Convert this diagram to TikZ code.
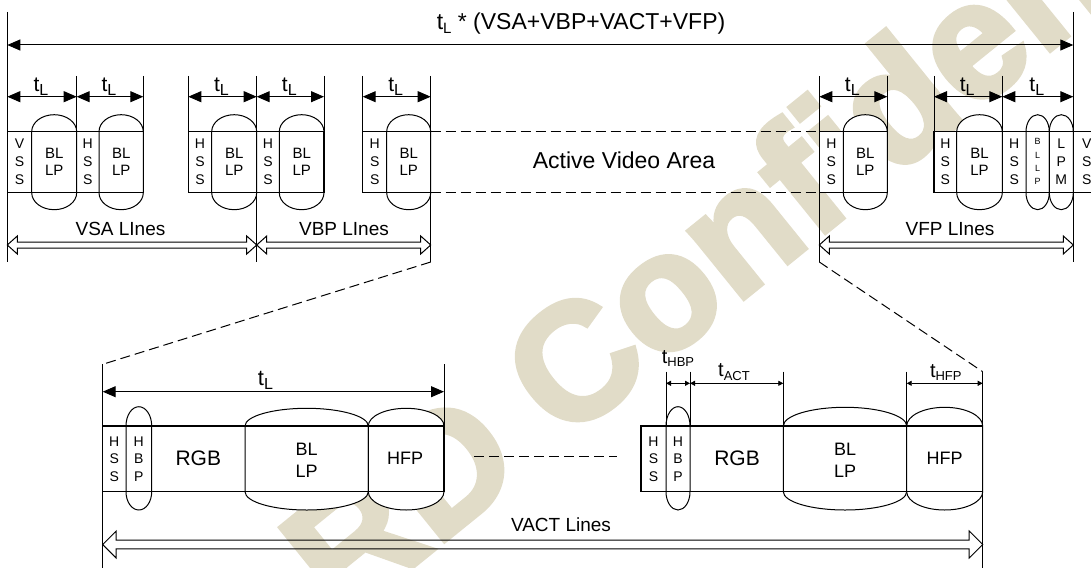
\documentclass[tikz,border=0pt]{standalone}
\usepackage{fontspec}
\setmainfont{Liberation Sans}
\newfontfamily\wmfont{Liberation Sans}[BoldFeatures={FakeBold=3}]
\usetikzlibrary{arrows.meta,calc}
\definecolor{wmcol}{RGB}{225,220,200}
\newcommand\fsz[2]{\fontsize{#1}{#2}\selectfont}
\newcommand\tsub[3]{{\fsz{#1}{#1}t\raisebox{-3.5pt}{\fsz{#2}{#2}#3}}}
\newcommand\pill[6]{%
  \pgfmathsetmacro\pillr{(#2-#1)/2}%
  \draw[fill=white] (#1,#3) arc[start angle=180,end angle=360,x radius=\pillr,y radius=#5] -- (#2,#4) arc[start angle=0,end angle=180,x radius=\pillr,y radius=#6] -- cycle;}
\newcommand\harrow[5]{%
  \draw (#1) -- ++(#3,-#4) -- ++(0,#4-#5) -- ($(#2)+(-#3,-#5)$) -- ++(0,#5-#4) -- (#2) -- ++(-#3,#4) -- ++(0,#5-#4) -- ($(#1)+(#3,#5)$) -- ++(0,#4-#5) -- cycle;}
\begin{document}
\begin{tikzpicture}[x=1pt,y=-1pt,line width=1pt,
  lbl/.style={inner sep=0pt,align=center},
  big/.style={{Triangle[length=13pt,width=11pt]}-{Triangle[length=13pt,width=11pt]}},
  small/.style={line width=0.8pt,{Triangle[length=5pt,width=5pt]}-{Triangle[length=5pt,width=5pt]}},
  dashline/.style={dash pattern=on 10pt off 5pt},
  boxline/.style={line width=1.2pt},
  col/.style={lbl,font=\fsz{14}{18.3}},
  blp/.style={lbl,font=\fsz{15}{16.7}},
  linelbl/.style={lbl,font=\fsz{19}{22}},
  bcol/.style={lbl,font=\fsz{14}{17.5}},
  bbig/.style={lbl,font=\fsz{18}{21.7}}]
\useasboundingbox (0,0) rectangle (1091,567);
\clip (0,0) rectangle (1091,567);
% watermark
\node[inner sep=0pt,text=wmcol,font=\wmfont\bfseries\fsz{165}{165},rotate=39,anchor=base west] (wm) at (343,623) {RD Confidential};
% ---------- top row boxes ----------
\foreach \xa/\xb in {7.3/143.3,188.3/324,362.7/430.7,819.3/887.3,934/1100}
  \fill[white] (\xa,131.7) rectangle (\xb,192.7);
\foreach \xa/\xb in {31.7/76.7,99/143.3,211.7/256.7,279.3/324,386.7/430.7,843.3/887.3,956.7/1002.3,1026/1049.3,1049.3/1073.3}
  \pill{\xa}{\xb}{131.7}{192.7}{17}{17}
\foreach \xa/\xb in {7.3/143.3,188.3/324,362.7/430.7,819.3/887.3,934/1100}
  \draw[boxline] (\xa,131.7) rectangle (\xb,192.7);
% ticks
\foreach \x/\yb in {76.7/192.7,143.3/192.7,188.3/192.7,256.7/262,324/192.7,362.7/192.7,430.7/262,819.3/262,887.3/192.7,934/192.7,1002.3/192.7}
  \draw (\x,76) -- (\x,\yb);
\draw (7.3,12) -- (7.3,262);
\draw (1073.3,12) -- (1073.3,262);
% coordinates
\foreach \n/\x in {0/7.3,1/76.7,2/143.3,3/188.3,4/256.7,5/324,6/362.7,7/430.7,8/819.3,9/887.3,10/934,11/1002.3,12/1073.3}{
  \coordinate (d\n) at (\x,96.7);
  \coordinate (w\n) at (\x,245);
  \coordinate (bt\n) at (\x,131.7);
  \coordinate (bb\n) at (\x,192.7);
  \coordinate (lo\n) at (\x,262);}
\coordinate (topL) at (7.3,45);
\coordinate (topR) at (1073.3,45);
% overall arrow and title
\draw[big] (topL) -- (topR);
\node[lbl,font=\fsz{23}{26},anchor=base] (title) at (581,30) {\tsub{23}{15}{L} * (VSA+VBP+VACT+VFP)};
% t_L arrows
\foreach \a/\b in {0/1,1/2,3/4,4/5,6/7,8/9,10/11,11/12}
  \draw[big] (d\a) -- (d\b) node[midway,lbl,anchor=south,yshift=1pt,xshift=-1pt] (tl\a) {\tsub{21}{16}{L}};
% column labels
\foreach \x/\t [count=\i] in {19.5/V\\S\\S,87.8/H\\S\\S,200/H\\S\\S,268/H\\S\\S,374.7/H\\S\\S,831.3/H\\S\\S,945.3/H\\S\\S,1014.2/H\\S\\S,1061.3/L\\P\\M,1086.7/V\\S\\S}
  \node[col] (c\i) at (\x,161.7) {\t};
\foreach \x [count=\i] in {54.2,121.2,234.2,301.7,408.7,865.3,979.5}
  \node[blp] (p\i) at (\x,161.7) {BL\\LP};
\node[lbl,font=\fsz{9}{13.3}] (bllp) at (1037.7,161.7) {B\\L\\L\\P};
% active video area
\draw[dashline] (bt7) -- (bt8);
\draw[dashline] (bb7) -- (bb8);
\node[lbl,font=\fsz{23}{26}] (ava) at (624,160) {Active Video Area};
% lines arrows
\harrow{w0}{w4}{10}{9}{3}
\harrow{w4}{w7}{10}{9}{3}
\harrow{w8}{w12}{10}{9}{3}
\node[linelbl] (vsa) at (120.5,229) {VSA LInes};
\node[linelbl] (vbp) at (344,229) {VBP LInes};
\node[linelbl] (vfp) at (950,229) {VFP LInes};
% ---------- bottom ----------
\coordinate (zl) at (102.7,364.3);
\coordinate (zr) at (982.7,371.7);
\draw[dashline] (lo7) -- (zl);
\draw[dashline] (lo8) -- (zr);
\fill[white] (102.7,426) rectangle (444,491.7);
\fill[white] (641,426) rectangle (982.7,491.7);
\pill{126}{151.7}{426}{491.7}{19.3}{18.3}
\pill{245}{368.3}{426}{491.7}{17.7}{18.3}
\pill{368.3}{444}{426}{491.7}{17.7}{18.3}
\pill{666}{690}{426}{491.7}{19.3}{18.3}
\pill{783.3}{906.7}{426}{491.7}{18.7}{18.3}
\pill{906.7}{982.7}{426}{491.7}{18.7}{18.3}
\draw[boxline] (102.7,426) rectangle (444,491.7);
\draw[boxline] (641,426) rectangle (982.7,491.7);
\draw (zl) -- (102.7,570);
\draw (444,364.3) -- (444,491.7);
\foreach \x in {666,690,783.3,906.7} \draw (\x,371.7) -- (\x,426);
\draw (zr) -- (982.7,570);
% bottom dimension arrows
\coordinate (e0) at (102.7,391.7);
\coordinate (e1) at (444,391.7);
\draw[big] (e0) -- (e1);
\node[lbl,anchor=south] (tlb) at (265.5,389.5) {\tsub{22}{16}{L}};
\foreach \n/\x in {1/666,2/690,3/783.3,4/906.7,5/982.7} \coordinate (s\n) at (\x,383.3);
\draw[small] (s1) -- (s2);
\draw[small] (s2) -- (s3);
\draw[small] (s4) -- (s5);
\node[lbl,anchor=south] (thbp) at (678,367) {\tsub{20}{13}{HBP}};
\node[lbl,anchor=south] (tact) at (734,381) {\tsub{20}{13}{ACT}};
\node[lbl,anchor=south] (thfp) at (945.8,381) {\tsub{20}{13}{HFP}};
% bottom labels
\node[bcol] (h1) at (114.3,459) {H\\S\\S};
\node[bcol] (h2) at (138.8,459) {H\\B\\P};
\node[lbl,font=\fsz{21}{24}] (rgb1) at (198.3,458.3) {RGB};
\node[bbig] (bl1) at (306.7,460) {BL\\LP};
\node[bbig] (hfp1) at (405,458.3) {HFP};
\node[bcol] (h3) at (653.5,459) {H\\S\\S};
\node[bcol] (h4) at (678,459) {H\\B\\P};
\node[lbl,font=\fsz{21}{24}] (rgb2) at (737,458.3) {RGB};
\node[bbig] (bl2) at (845,460) {BL\\LP};
\node[bbig] (hfp2) at (944.5,458.3) {HFP};
\coordinate (m0) at (474,456);
\coordinate (m1) at (616.7,456);
\draw[dashline] (m0) -- (m1);
% VACT arrow
\coordinate (v0) at (102.7,544.5);
\coordinate (v1) at (982.7,544.5);
\harrow{v0}{v1}{13.5}{13.5}{4.3}
\node[linelbl] (vact) at (561,525) {VACT Lines};
\end{tikzpicture}
\end{document}
